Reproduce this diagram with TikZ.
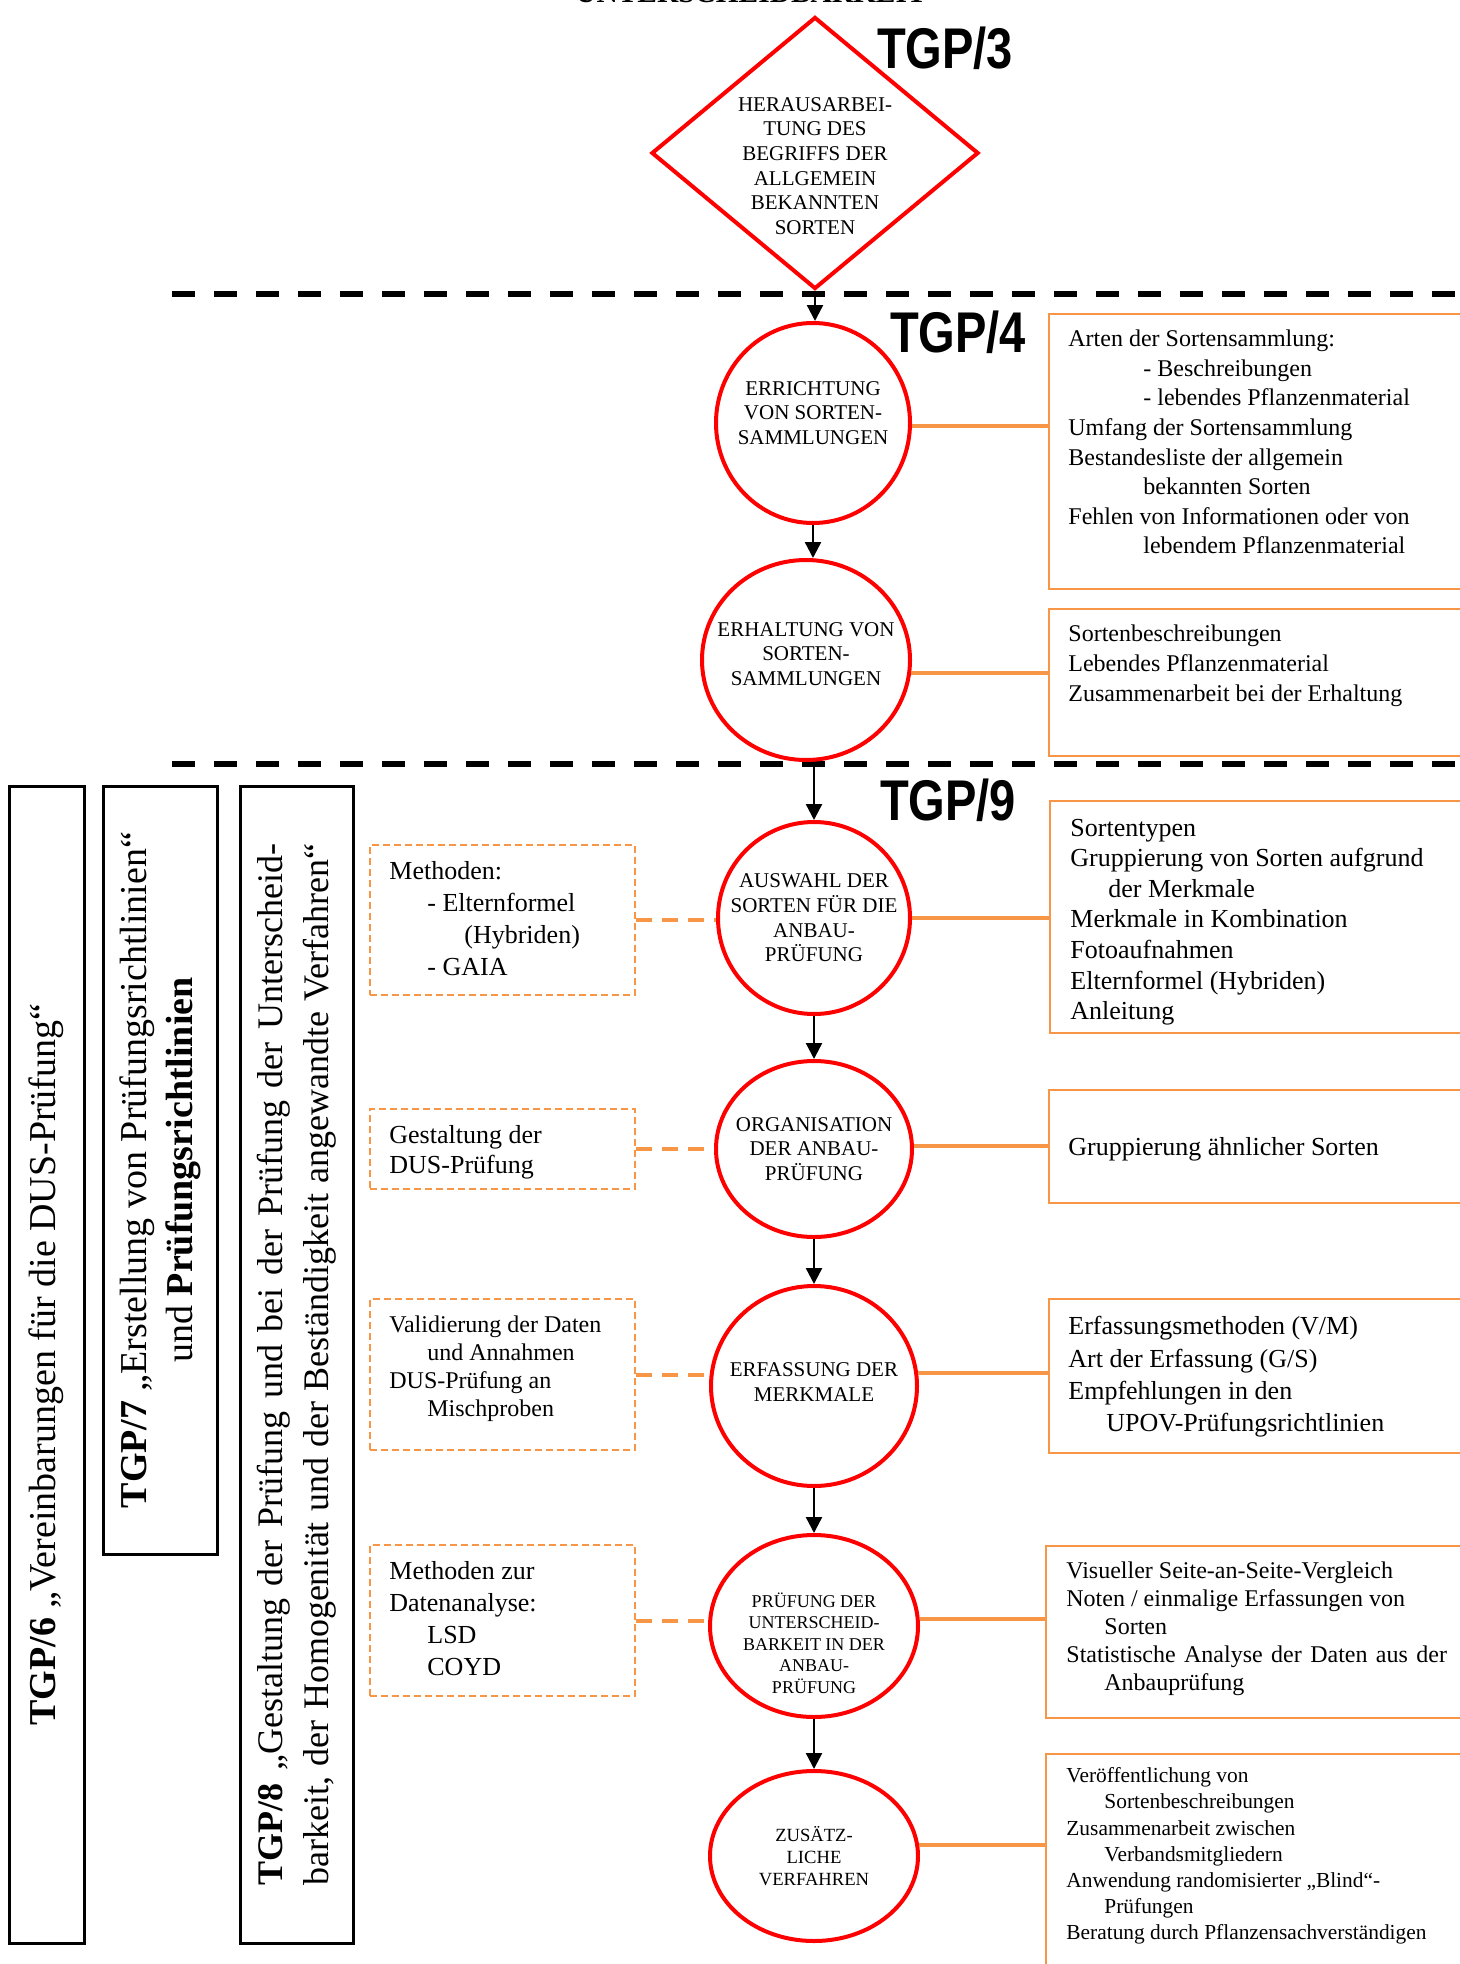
\documentclass[tikz,border=0pt]{standalone}
\usepackage{fontspec}
\setmainfont{Liberation Serif}
\newfontfamily\tgpfont[FakeStretch=0.82]{Liberation Sans}
\usepackage{xcolor}
\usetikzlibrary{shapes.geometric}
\usetikzlibrary{arrows.meta}
\usetikzlibrary{graphs}

\definecolor{oransje}{RGB}{247,150,70}

\begin{document}
\begin{tikzpicture}[x=0.5pt, y=-0.5pt,
		sort/.style={draw=red, ellipse, line width=2pt, inner sep=0pt},
		diam/.style={draw=red, diamond, line width=2pt, inner sep=0pt},
		etikett/.style={align=center, inner sep=0pt, font=\fontsize{10.5}{12.3}\selectfont},
		rute/.style={draw=oransje, line width=1.2pt, anchor=north west, inner sep=0pt},
		stiplrute/.style={rute, line width=1pt, dash pattern=on 3.5pt off 2pt},
		tekst/.style={anchor=west, align=left, inner sep=0pt},
		linje/.style={draw=oransje, line width=2pt},
		stiplinje/.style={linje, dash pattern=on 8pt off 5pt},
		skille/.style={line width=3pt, dash pattern=on 11.5pt off 9.5pt},
		pil/.style={->, line width=1.2pt},
		stolpe/.style={draw, line width=1.5pt, rotate=90, align=center, inner sep=0pt, font=\fontsize{19}{23}\selectfont},
		tgp/.style={inner sep=0pt, font=\tgpfont\bfseries\fontsize{28.7}{30}\selectfont},
		>={Triangle[length=8pt, width=8pt]}]
	\useasboundingbox (0,0) rectangle (1460,1964);

	%Overskrift og TGP-merkene
	\node[anchor=base, inner sep=0pt, font=\fontsize{14.7}{16}\selectfont\bfseries] (tittel) at (751,3) {UNTERSCHEIDBARKEIT};
	\node[tgp] (tgp3) at (945,48) {TGP/3};
	\node[tgp] (tgp4) at (958,332) {TGP/4};
	\node[tgp] (tgp9) at (948,800) {TGP/9};

	%Skillelinjene
	\draw[skille] (172,294) -- (1470,294);
	\draw[skille] (172,764) -- (1470,764);

	%Diamanten og ellipsene går her
	\node[diam, minimum width=163.5pt, minimum height=136pt, label={[etikett, yshift=-6.5pt]center:HERAUSARBEI-\\TUNG DES\\BEGRIFFS DER\\ALLGEMEIN\\BEKANNTEN\\SORTEN}] (0) at (815,153) {};
	\node[sort, minimum width=97pt, minimum height=100pt, label={[etikett, yshift=5pt]center:ERRICHTUNG\\VON SORTEN-\\SAMMLUNGEN}] (1) at (813,423) {};
	\node[sort, minimum width=104pt, minimum height=100pt, label={[etikett, yshift=3pt]center:ERHALTUNG VON\\SORTEN-\\SAMMLUNGEN}] (2) at (806,660) {};
	\node[sort, minimum width=96pt, minimum height=96pt, label={[etikett]center:AUSWAHL DER\\SORTEN FÜR DIE\\ANBAU-\\PRÜFUNG}] (3) at (814,918) {};
	\node[sort, minimum width=98pt, minimum height=88pt, label={[etikett]center:ORGANISATION\\DER ANBAU-\\PRÜFUNG}] (4) at (814,1149) {};
	\node[sort, minimum width=103pt, minimum height=100pt, label={[etikett, yshift=2pt]center:ERFASSUNG DER\\MERKMALE}] (5) at (814,1386) {};
	\node[sort, minimum width=104pt, minimum height=91pt, label={[etikett, yshift=-8.5pt, font=\fontsize{9}{10.8}\selectfont]center:PRÜFUNG DER\\UNTERSCHEID-\\BARKEIT IN DER\\ANBAU-\\PRÜFUNG}] (6) at (814,1626) {};
	\node[sort, minimum width=104pt, minimum height=85pt, label={[etikett, font=\fontsize{9.3}{11}\selectfont]center:ZUSÄTZ-\\LICHE\\VERFAHREN}] (7) at (814,1856) {};

	%Pilene
	\draw[pil] (0) -- (0 |- 1.north);
	\draw[pil] (1) -- (1 |- 2.north);
	\draw[pil] (3 |- 2.south) -- (3);
	\graph[edges=pil] {
		(3) -> (4) -> (5) -> (6) -> (7);
	};

	%Rutene til høyre
	\node[rute, minimum width=211pt, minimum height=137.5pt] (r1) at (1048,313) {};
	\node[rute, minimum width=211pt, minimum height=73.5pt] (r2) at (1048,608) {};
	\node[rute, minimum width=210.5pt, minimum height=116pt] (r3) at (1049,800) {};
	\node[rute, minimum width=211pt, minimum height=56.5pt] (r4) at (1048,1089) {};
	\node[rute, minimum width=211pt, minimum height=77pt] (r5) at (1048,1298) {};
	\node[rute, minimum width=212.5pt, minimum height=86pt] (r6) at (1045,1545) {};
	\node[rute, minimum width=212.5pt, minimum height=113.5pt] (r7) at (1045,1753) {};

	\node[tekst, font=\fontsize{12}{14.8}\selectfont] (rt1) at (1068,442) {Arten der Sortensammlung:\\\hspace*{37.5pt}- Beschreibungen\\\hspace*{37.5pt}- lebendes Pflanzenmaterial\\Umfang der Sortensammlung\\Bestandesliste der allgemein\\\hspace*{37.5pt}bekannten Sorten\\Fehlen von Informationen oder von\\\hspace*{37.5pt}lebendem Pflanzenmaterial};
	\node[tekst, font=\fontsize{12}{15}\selectfont] (rt2) at (1068,666) {Sortenbeschreibungen\\Lebendes Pflanzenmaterial\\Zusammenarbeit bei der Erhaltung};
	\node[tekst, font=\fontsize{13}{15.3}\selectfont] (rt3) at (1070,922) {Sortentypen\\Gruppierung von Sorten aufgrund\\\hspace*{19pt}der Merkmale\\Merkmale in Kombination\\Fotoaufnahmen\\Elternformel (Hybriden)\\Anleitung};
	\node[tekst, font=\fontsize{13}{15}\selectfont] (rt4) at (1068,1149) {Gruppierung ähnlicher Sorten};
	\node[tekst, font=\fontsize{13}{16.2}\selectfont] (rt5) at (1068,1377) {Erfassungsmethoden (V/M)\\Art der Erfassung (G/S)\\Empfehlungen in den\\\hspace*{19pt}UPOV-Prüfungsrichtlinien};
	\node[tekst, font=\fontsize{12}{14}\selectfont] (rt6) at (1066,1629) {Visueller Seite-an-Seite-Vergleich\\Noten / einmalige Erfassungen von\\\hspace*{19pt}Sorten\\\makebox[190.3pt][s]{Statistische Analyse der Daten aus der}\\\hspace*{19pt}Anbauprüfung};
	\node[tekst, font=\fontsize{10.7}{13.1}\selectfont] (rt7) at (1066,1856) {Veröffentlichung von\\\hspace*{19pt}Sortenbeschreibungen\\Zusammenarbeit zwischen\\\hspace*{19pt}Verbandsmitgliedern\\Anwendung randomisierter „Blind“-\\\hspace*{19pt}Prüfungen\\Beratung durch Pflanzensachverständigen};

	%Rutene til venstre
	\node[stiplrute, minimum width=132.5pt, minimum height=75pt] (l1) at (369,844) {};
	\node[stiplrute, minimum width=132.5pt, minimum height=40pt] (l2) at (369,1108) {};
	\node[stiplrute, minimum width=132.5pt, minimum height=75.5pt] (l3) at (369,1298) {};
	\node[stiplrute, minimum width=132.5pt, minimum height=75.5pt] (l4) at (369,1544) {};

	\node[tekst, font=\fontsize{13}{16}\selectfont] (lt1) at (389,919) {Methoden:\\\hspace*{19pt}- Elternformel\\\hspace*{37.5pt}(Hybriden)\\\hspace*{19pt}- GAIA};
	\node[tekst, font=\fontsize{13}{15}\selectfont] (lt2) at (389,1152) {Gestaltung der\\DUS-Prüfung};
	\node[tekst, font=\fontsize{12}{14}\selectfont] (lt3) at (389,1369) {Validierung der Daten\\\hspace*{19pt}und Annahmen\\DUS-Prüfung an\\\hspace*{19pt}Mischproben};
	\node[tekst, font=\fontsize{13}{16}\selectfont] (lt4) at (389,1619) {Methoden zur\\Datenanalyse:\\\hspace*{19pt}LSD\\\hspace*{19pt}COYD};

	%Kantene defineres her
	\draw[linje] (1.358) -- (1.358 -| r1.west);
	\draw[linje] (2.353) -- (2.353 -| r2.west);
	\draw[linje] (3.east) -- (3.east -| r3.west);
	\draw[linje] (4.2) -- (4.2 -| r4.west);
	\draw[linje] (5.7) -- (5.7 -| r5.west);
	\draw[linje] (6.4) -- (6.4 -| r6.west);
	\draw[linje] (7.6) -- (7.6 -| r7.west);
	\draw[stiplinje] (l1.east) -- (l1.east -| 3.west);
	\draw[stiplinje] (l2.east) -- (l2.east -| 4.west);
	\draw[stiplinje] (l3.east) -- (l3.east -| 5.west);
	\draw[stiplinje] (l4.east) -- (l4.east -| 6.west);

	%TGP-stolpene
	\node[stolpe, minimum width=578.5pt, minimum height=37.5pt] (v6) at (46.5,1364.5) {\textbf{TGP/6} „Vereinbarungen für die DUS-Prüfung“};
	\node[stolpe, minimum width=384pt, minimum height=57pt] (v7) at (160,1170) {\textbf{TGP/7} „Erstellung von Prüfungsrichtlinien“\\und \textbf{Prüfungsrichtlinien}};
	\node[stolpe, minimum width=578.5pt, minimum height=56.5pt, font=\fontsize{18}{23}\selectfont] (v8) at (296.5,1364.5) {\makebox[521pt][s]{\textbf{TGP/8} „Gestaltung der Prüfung und bei der Prüfung der Unterscheid-}\\\makebox[521pt][s]{barkeit, der Homogenität und der Beständigkeit angewandte Verfahren“}};
\end{tikzpicture}
\end{document}
